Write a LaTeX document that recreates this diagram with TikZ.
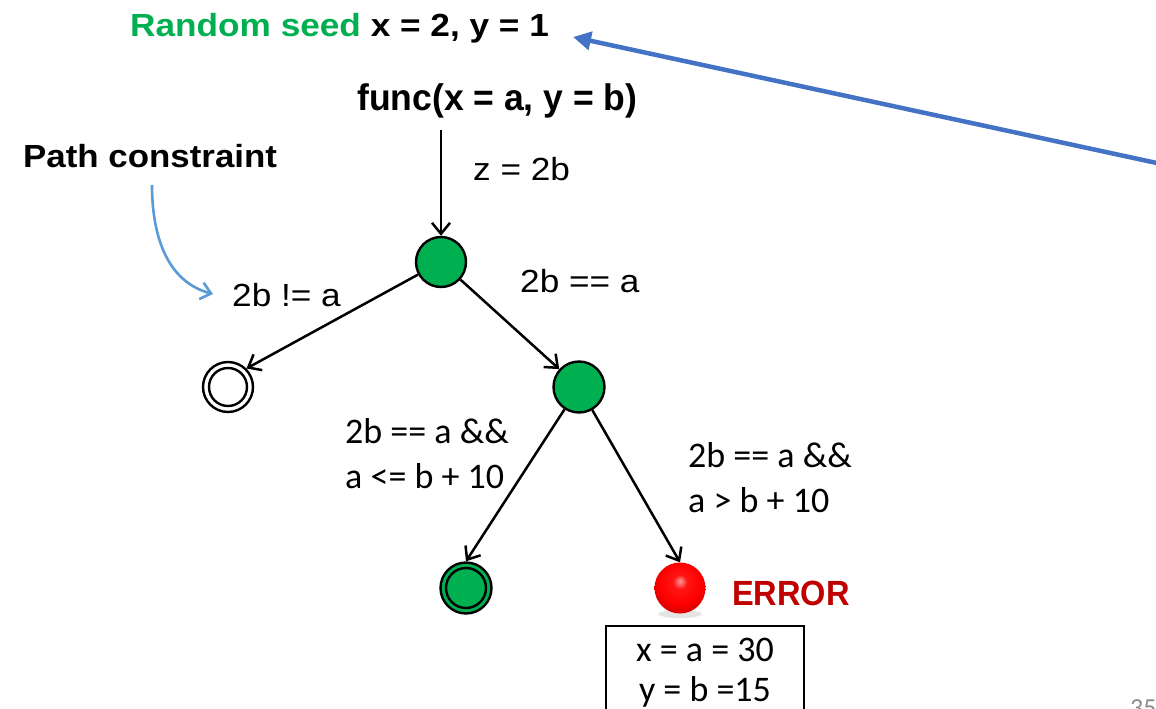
\documentclass[tikz,border=0pt]{standalone}
\usepackage{fontspec}
\setmainfont{Liberation Sans}
\newfontfamily\calfont{Carlito}
\usetikzlibrary{arrows.meta}
\definecolor{offgreen}{HTML}{00B050}
\definecolor{arrblue}{HTML}{4472C4}
\definecolor{lightblue}{HTML}{5B9BD5}
\definecolor{errred}{HTML}{C00000}
\definecolor{pagegray}{HTML}{8C8C8C}
\newcommand{\hsc}[2]{\scalebox{#1}[1]{#2}}
\pgfdeclareradialshading{redball}{\pgfpoint{0bp}{7bp}}{%
  color(0bp)=(red!40!white); color(7bp)=(red!92!white); color(20bp)=(red);
  color(28bp)=(red!85!black); color(33bp)=(red!70!black); color(50bp)=(red!70!black)}
\begin{document}
\begin{tikzpicture}[x=1pt,y=-1pt,
  txt/.style={inner sep=0pt, anchor=base west},
  state/.style={circle, draw=black, line width=2.4pt, minimum size=50pt, inner sep=0pt},
  gstate/.style={state, fill=offgreen},
  arr/.style={draw=black, line width=2.5pt, -{Straight Barb[length=11pt,width=18pt,line width=2.5pt]}},
  bluearr/.style={draw=arrblue, line width=4.5pt, -{Triangle[length=18pt,width=18pt]}},
  pcarr/.style={draw=lightblue, line width=2.6pt, -{Straight Barb[length=10pt,width=17pt,line width=2.6pt]}},
  reslbl/.style={txt, font=\calfont\fontsize{36}{40}\selectfont},
  cond/.style={txt, font=\fontsize{32}{38}\selectfont},
  resbox/.style={draw=black, line width=2pt, minimum width=198pt, inner xsep=0pt, inner ysep=12pt,
    align=center, font=\calfont\fontsize{36}{40}\selectfont, anchor=north}
]
\useasboundingbox (0,0) rectangle (1156,709);
\fill[white] (0,0) rectangle (1156,709);

% titles
\node[txt] (seed) at (130,37) {\fontsize{32}{38}\selectfont\bfseries\hsc{1.1}{\textcolor{offgreen}{Random seed} x = 2, y = 1}};
\node[txt] (func) at (357,110) {\fontsize{37}{44}\selectfont\bfseries\hsc{0.96}{func(x = a, y = b)}};
\node[txt] (pc) at (23,167) {\fontsize{32}{38}\selectfont\bfseries\hsc{1.09}{Path constraint}};

% states
\node[gstate] (n1) at (441,262) {};
\node[state] (lf) at (228,387) {};
\draw[line width=2.4pt] (lf.center) circle[radius=19pt];
\node[gstate, minimum size=51pt] (n2) at (579,387) {};
\node[gstate, minimum size=51pt] (gl) at (466,588) {};
\draw[line width=2.4pt] (gl.center) circle[radius=20pt];
\fill[black, opacity=0.10] (680,614) ellipse[x radius=22pt, y radius=4pt];
\node[circle, minimum size=51pt, inner sep=0pt, shading=redball] (err) at (680,588) {};

% labels
\node[cond] (lz) at (473,180) {\hsc{1.1}{z = 2b}};
\node[cond] (lne) at (232,306) {\hsc{1.1}{2b != a}};
\node[cond] (leq) at (520,292) {\hsc{1.1}{2b == a}};
\node[reslbl] (ll1) at (345,443) {2b == a \&\&};
\node[reslbl] (ll2) at (345,488) {a <= b + 10};
\node[reslbl] (lr1) at (688,467) {2b == a \&\&};
\node[reslbl] (lr2) at (688,512) {a > b + 10};
\node[txt, text=errred] (errlbl) at (732,605) {\fontsize{35}{40}\selectfont\bfseries\hsc{0.93}{ERROR}};
\node[resbox] (res) at (705,625) {x = a = 30\\y = b =15};
\node[inner sep=0pt, anchor=north west, text=pagegray, font=\calfont\fontsize{26}{30}\selectfont] (pg) at (1130,699) {35};

% connectors
\coordinate (fstart) at (441,130);
\draw[arr] (fstart) -- (n1);
\draw[arr] (n1) -- (lf.north east);
\draw[arr] (n1) -- (n2);
\draw[arr] (n2) -- (gl.north);
\draw[arr] (n2) -- (err.north);

\coordinate (pcstart) at (152,185);
\coordinate (pcend) at (213,294);
\draw[pcarr] (pcstart) to[out=-90, in=165] (pcend);

\coordinate (bstart) at (1166,165);
\coordinate (bend) at (573,37);
\draw[bluearr] (bstart) -- (bend);
\end{tikzpicture}
\end{document}
